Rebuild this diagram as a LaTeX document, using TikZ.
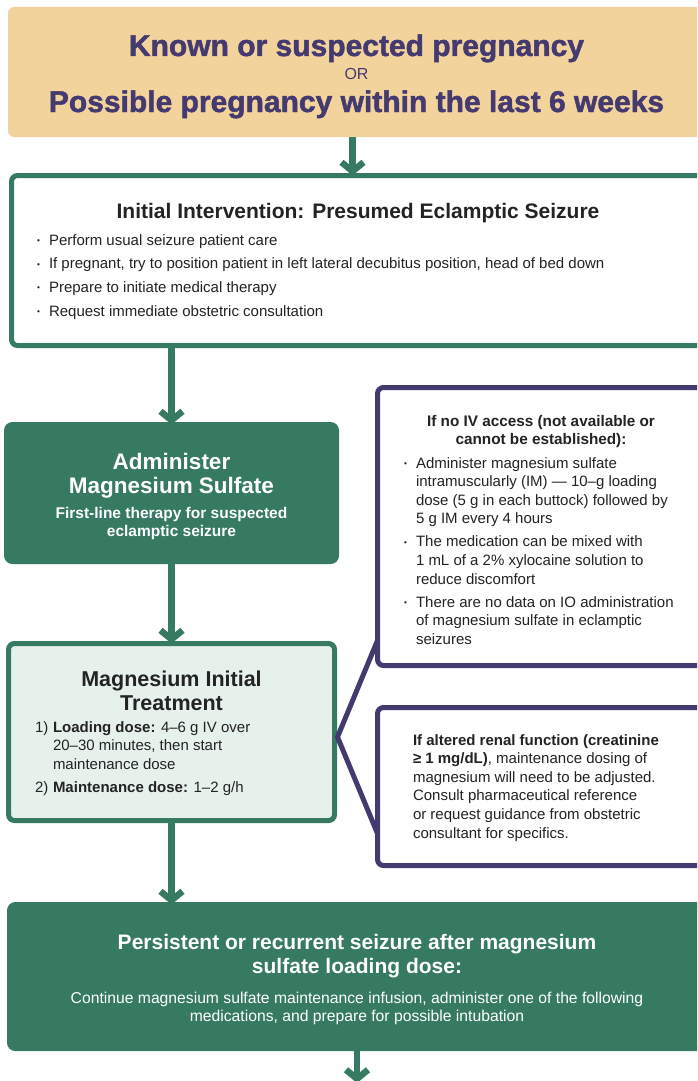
\documentclass[tikz,border=0pt]{standalone}
\usepackage{fontspec}
\usetikzlibrary{arrows.meta}
\setmainfont{Liberation Sans}
\newfontfamily\heavyfont{Liberation Sans}[BoldFeatures={FakeBold=1.6}]
\definecolor{tan}{HTML}{F3D39C}
\definecolor{mgreen}{HTML}{367A61}
\definecolor{mint}{HTML}{E7F1EC}
\definecolor{mpurple}{HTML}{443A70}
\definecolor{ink}{HTML}{232323}
\newcommand{\bdot}{\makebox[12pt][l]{\raisebox{1.5pt}{\scalebox{0.55}{\textbullet}}}}
\newcommand{\bitem}[1]{\hangindent=12pt\hangafter=1\noindent\bdot#1\par}
\newcommand{\cbox}[2]{\parbox[t]{#1}{\centering #2}}
\newcommand{\lbox}[2]{\parbox[t]{#1}{#2}}

\begin{document}
\begin{tikzpicture}
			[x=1pt,y=-1pt,every node/.style={inner sep=0pt,outer sep=0pt,text=ink},
			panel/.style={rectangle,rounded corners=6pt,line width=5pt},
			greenbox/.style={panel,draw=mgreen},
			purplebox/.style={panel,draw=mpurple,fill=white},
			arr/.style={draw=mgreen,line width=6.5pt,-{Straight Barb[length=9pt,width=22pt]}},
			body/.style={font=\fontsize{15}{18.6}\selectfont}]
			\clip (0,0) rectangle (697,1081);
			\node[panel,fill=tan,minimum width=697pt,minimum height=130pt] (top) at (356.5,72) {};
			\node[greenbox,fill=white,minimum width=693pt,minimum height=170pt] (init) at (358,260.5) {};
			\node[greenbox,fill=mgreen,minimum width=330pt,minimum height=137pt] (admin) at (171.5,493) {};
			\node[greenbox,fill=mint,minimum width=326pt,minimum height=177pt] (mgtx) at (171.5,732) {};
			\node[purplebox,minimum width=333pt,minimum height=278pt] (noiv) at (544,526.5) {};
			\node[purplebox,minimum width=333pt,minimum height=158pt] (renal) at (544,786.5) {};
			\node[greenbox,fill=mgreen,minimum width=695pt,minimum height=144pt] (persist) at (357,976.5) {};
			\coordinate (topout) at ([xshift=-4pt]top.south);
			\coordinate (next) at (357,1083);
			
			\node[anchor=base,text=mpurple,font=\heavyfont\bfseries\fontsize{30}{32}\selectfont] (topa) at (356.5,56) {Known or suspected pregnancy};
			\node[anchor=base,text=mpurple,font=\fontsize{16}{18}\selectfont] (topor) at (356.5,79) {OR};
			\node[anchor=base,text=mpurple,font=\heavyfont\bfseries\fontsize{30}{32}\selectfont] (topb) at (356.5,112) {Possible pregnancy within the last 6 weeks};
			
			\node[anchor=base,font=\bfseries\fontsize{21}{24}\selectfont] (inittitle) at (358,218) {Initial Intervention: Presumed Eclamptic Seizure};
			\node[anchor=base west,font=\fontsize{15}{23.7}\selectfont] (initlist) at (37,245)
				{\lbox{650pt}{\bitem{Perform usual seizure patient care}
				\bitem{If pregnant, try to position patient in left lateral decubitus position, head of bed down}
				\bitem{Prepare to initiate medical therapy}
				\bitem{Request immediate obstetric consultation}}};
			
			\node[anchor=base,text=white,font=\bfseries\fontsize{22.5}{24}\selectfont] (admintitle) at (171.5,469) {\cbox{320pt}{Administer\\Magnesium Sulfate}};
			\node[anchor=base,text=white,font=\bfseries\fontsize{15.5}{18}\selectfont] (adminsub) at (171.5,518) {\cbox{320pt}{First-line therapy for suspected\\eclamptic seizure}};
			
			\node[anchor=base,font=\bfseries\fontsize{21.5}{24}\selectfont] (mgtitle) at (171.5,686) {\cbox{320pt}{Magnesium Initial\\Treatment}};
			\node[anchor=base west,body] (mglist) at (35,732)
				{\lbox{290pt}{\hangindent=18pt\hangafter=1\noindent\makebox[18pt][l]{1)}\textbf{Loading dose:} 4--6 g IV over\\20--30 minutes, then start\\maintenance dose\par
				\vspace{4.5pt}\hangindent=18pt\hangafter=1\noindent\makebox[18pt][l]{2)}\textbf{Maintenance dose:} 1--2 g/h\par}};
			
			\node[anchor=base,font=\bfseries\fontsize{15.3}{18}\selectfont] (noivtitle) at (541,426) {\cbox{300pt}{If no IV access (not available or\\cannot be established):}};
			\node[anchor=base west,body] (noivlist) at (404,468)
				{\lbox{295pt}{\bitem{Administer magnesium sulfate\\intramuscularly (IM) --- 10--g loading\\dose (5 g in each buttock) followed by\\5 g IM every 4 hours}
				\vspace{4.5pt}\bitem{The medication can be mixed with\\1 mL of a 2\% xylocaine solution to\\reduce discomfort}
				\vspace{4.5pt}\bitem{There are no data on IO administration\\of magnesium sulfate in eclamptic\\seizures}}};
			
			\node[anchor=base west,body] (renaltext) at (413,745)
				{\lbox{290pt}{\textbf{If altered renal function (creatinine}\\\textbf{≥ 1 mg/dL)}, maintenance dosing of\\magnesium will need to be adjusted.\\Consult pharmaceutical reference\\or request guidance from obstetric\\consultant for specifics.}};
			
			\node[anchor=base,text=white,font=\bfseries\fontsize{21}{24}\selectfont] (persisttitle) at (357,949) {\cbox{680pt}{Persistent or recurrent seizure after magnesium\\sulfate loading dose:}};
			\node[anchor=base,text=white,font=\fontsize{15.7}{18}\selectfont] (persistsub) at (357,1003) {\cbox{680pt}{Continue magnesium sulfate maintenance infusion, administer one of the following\\medications, and prepare for possible intubation}};
			
			\draw[mpurple,line width=5pt,line join=miter] ([yshift=25pt]noiv.south west) -- ([xshift=3pt,yshift=-5pt]mgtx.east) -- ([yshift=32pt]renal.south west);
			
			\foreach \from/\to in {topout/topout |- init.north,admin.north |- init.south/admin.north,admin.south/mgtx.north,mgtx.south/mgtx.south |- persist.north,persist.south/next}
			\draw[arr] (\from) -- (\to);
			\end{tikzpicture}
\end{document}
